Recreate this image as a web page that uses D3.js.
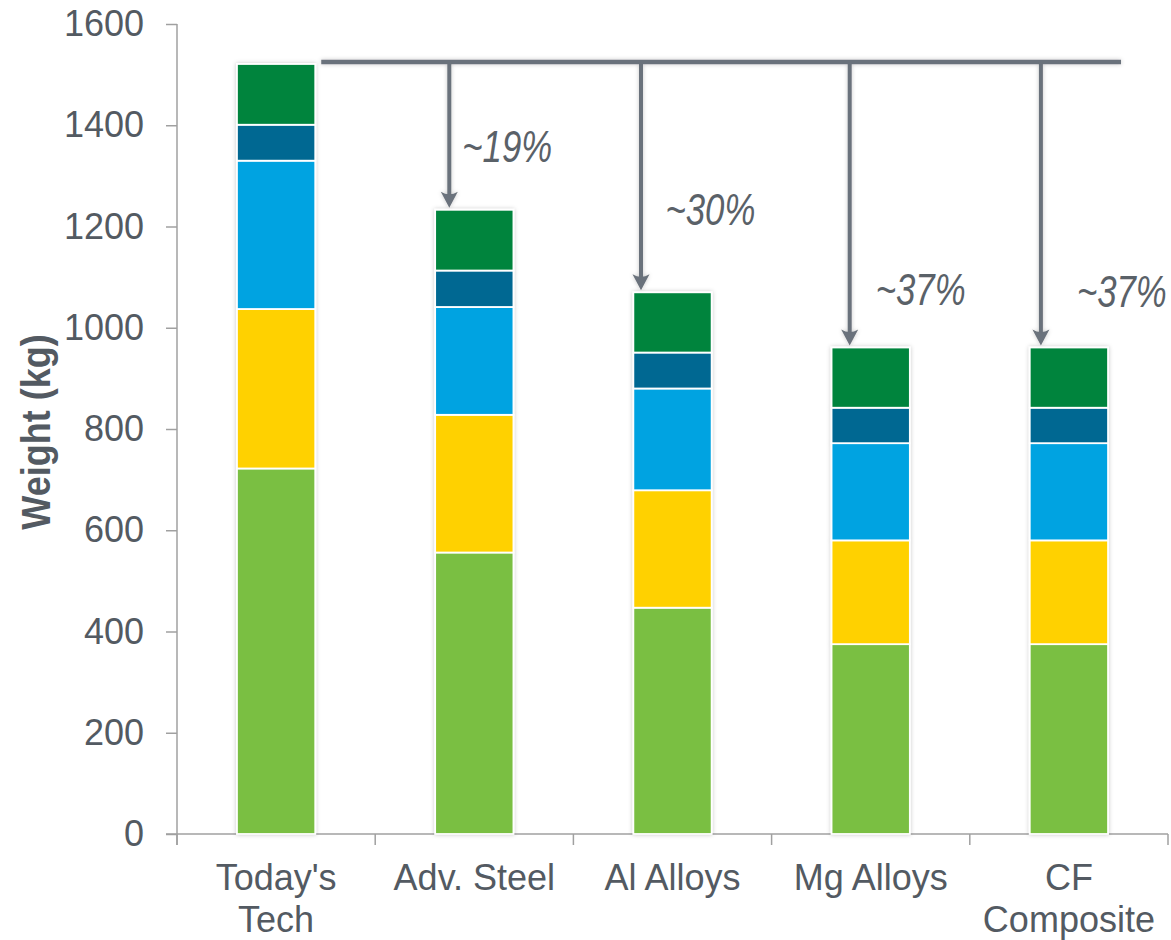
<!DOCTYPE html>
<html>
<head>
<meta charset="utf-8">
<script src="https://cdn.jsdelivr.net/npm/d3@7"></script>
<style>
  html, body { margin: 0; padding: 0; background: #fff; }
  svg { display: block; }
</style>
</head>
<body>
<svg id="chart" width="1171" height="940"></svg>
<script>
// Vehicle weight by design option, stacked by component group (kg)
const categories = ["Today's Tech", "Adv. Steel", "Al Alloys", "Mg Alloys", "CF Composite"];
// stack layers, bottom to top
const layer1 = [722, 556, 447, 375, 375];
const layer2 = [315, 272, 232, 205, 205];
const layer3 = [293, 213, 201, 192, 192];
const layer4 = [71, 72, 71, 70, 70];
const layer5 = [120, 120, 119, 119, 119];
const yTickValues = [0, 200, 400, 600, 800, 1000, 1200, 1400, 1600];
const yTitle = "Weight (kg)";

const layerColors = ["#7abf43", "#ffd100", "#00a3e1", "#006892", "#00843e"];
const textColor = "#535a62";
const axisColor = "#a0a0a0";
const arrowColor = "#6b727b";

const svg = d3.select("#chart");
const defs = svg.append("defs");
defs.append("filter").attr("id", "soft").attr("x", "-20%").attr("y", "-20%")
  .attr("width", "140%").attr("height", "140%")
  .append("feDropShadow").attr("dx", 0).attr("dy", 0).attr("stdDeviation", 2)
  .attr("flood-color", "#000").attr("flood-opacity", 0.22);

const plot = { left: 177, right: 1168, top: 24, bottom: 834 };

const x = d3.scaleBand().domain(categories).range([plot.left, plot.right]).padding(0);
const y = d3.scaleLinear().domain([0, 1600]).range([plot.bottom, plot.top]);
const barW = x.bandwidth() * 0.395;

// stacked data
const layers = [layer1, layer2, layer3, layer4, layer5];
const rows = categories.map((c, i) => {
  const r = { cat: c };
  layers.forEach((l, k) => r["L" + k] = l[i]);
  return r;
});
const keys = layers.map((l, k) => "L" + k);
const stacked = d3.stack().keys(keys)(rows);
const totals = categories.map((c, i) => d3.sum(layers, l => l[i]));

// y axis
const yAxis = svg.append("g").attr("transform", `translate(${plot.left},0)`)
  .call(d3.axisLeft(y).tickValues(yTickValues).tickSize(11).tickPadding(22).tickFormat(d3.format("d")));
yAxis.select(".domain").attr("stroke", axisColor).attr("stroke-width", 1.5)
  .attr("d", `M0,${plot.top}V${plot.bottom + 11}`);
yAxis.selectAll(".tick line").attr("stroke", axisColor).attr("stroke-width", 1.5);
yAxis.selectAll(".tick text").attr("fill", textColor)
  .style("font-family", "'Liberation Sans', Arial, sans-serif").style("font-size", "36px");

// x axis: baseline, labels at band centres, ticks at band edges
const xAxis = svg.append("g").attr("transform", `translate(0,${plot.bottom})`)
  .call(d3.axisBottom(x).tickSize(0).tickPadding(30));
xAxis.select(".domain").attr("stroke", axisColor).attr("stroke-width", 1.5)
  .attr("d", `M${plot.left - 11},0H${plot.right}`);
const labelFont = "36px 'Liberation Sans', Arial, sans-serif";
const measureCtx = document.createElement("canvas").getContext("2d");
measureCtx.font = labelFont;
xAxis.selectAll(".tick text").attr("fill", textColor)
  .style("font-family", "'Liberation Sans', Arial, sans-serif").style("font-size", "36px")
  .each(function (d) {
    const t = d3.select(this);
    const words = d.split(" ");
    // wrap onto two lines when the label is wider than its band
    const lines = (measureCtx.measureText(d).width > x.bandwidth() - 8 && words.length > 1)
      ? [words.slice(0, -1).join(" "), words[words.length - 1]] : [d];
    t.text(null);
    lines.forEach((ln, j) => t.append("tspan").attr("x", 0).attr("dy", j === 0 ? "0.71em" : "1.17em").text(ln));
  });
const edges = categories.map(c => x(c)).concat([plot.right]);
svg.append("g").selectAll("line").data(edges).join("line")
  .attr("x1", d => d).attr("x2", d => d)
  .attr("y1", plot.bottom).attr("y2", plot.bottom + 11)
  .attr("stroke", axisColor).attr("stroke-width", 1.5);

// y axis title
svg.append("text")
  .attr("transform", `translate(50,${(plot.top + plot.bottom) / 2 + 3}) rotate(-90) scale(0.9,1)`)
  .attr("text-anchor", "middle")
  .attr("fill", textColor)
  .style("font-family", "'Liberation Sans', Arial, sans-serif")
  .style("font-size", "40px").style("font-weight", "bold")
  .text(yTitle);

// bars
const barGroups = svg.append("g").selectAll("g").data(categories).join("g")
  .attr("filter", "url(#soft)");
barGroups.each(function (c, i) {
  d3.select(this).selectAll("rect").data(stacked).join("rect")
    .attr("x", x(c) + (x.bandwidth() - barW) / 2)
    .attr("width", barW)
    .attr("y", s => y(s[i][1]))
    .attr("height", s => y(s[i][0]) - y(s[i][1]))
    .attr("fill", (s, k) => layerColors[k])
    .attr("stroke", "#fff").attr("stroke-width", 1.8);
});

// reduction annotations relative to the first design
const center = c => x(c) + x.bandwidth() / 2;
const arrowDx = [-25, -31.5, -21, -28];
const labelPos = [[-12, 48], [-7, 67], [5, 42], [8, 40]];
const lineY = y(totals[0]) - 2;
const ann = svg.append("g").attr("filter", "url(#soft)");
ann.append("line")
  .attr("x1", x(categories[0]) + (x.bandwidth() + barW) / 2 + 6)
  .attr("x2", 1121)
  .attr("y1", lineY).attr("y2", lineY)
  .attr("stroke", arrowColor).attr("stroke-width", 4.5);

categories.slice(1).forEach((c, j) => {
  const i = j + 1;
  const ax = center(c) + arrowDx[j];
  const tip = y(totals[i]) - 2;
  ann.append("line")
    .attr("x1", ax).attr("x2", ax)
    .attr("y1", lineY).attr("y2", tip - 10)
    .attr("stroke", arrowColor).attr("stroke-width", 4);
  ann.append("path")
    .attr("d", `M${ax - 8.5},${tip - 16} Q${ax},${tip - 11} ${ax + 8.5},${tip - 16} L${ax},${tip} Z`)
    .attr("fill", arrowColor);
  const pct = Math.round((1 - totals[i] / totals[0]) * 100);
  svg.append("text")
    .attr("transform", `translate(${center(c) + labelPos[j][0]},${y(totals[i]) - labelPos[j][1]}) scale(0.79,1)`)
    .attr("fill", "#5a6168")
    .style("font-family", "'Liberation Sans', Arial, sans-serif")
    .style("font-style", "italic")
    .style("font-size", "44px")
    .text("~" + pct + "%");
});
</script>
</body>
</html>
